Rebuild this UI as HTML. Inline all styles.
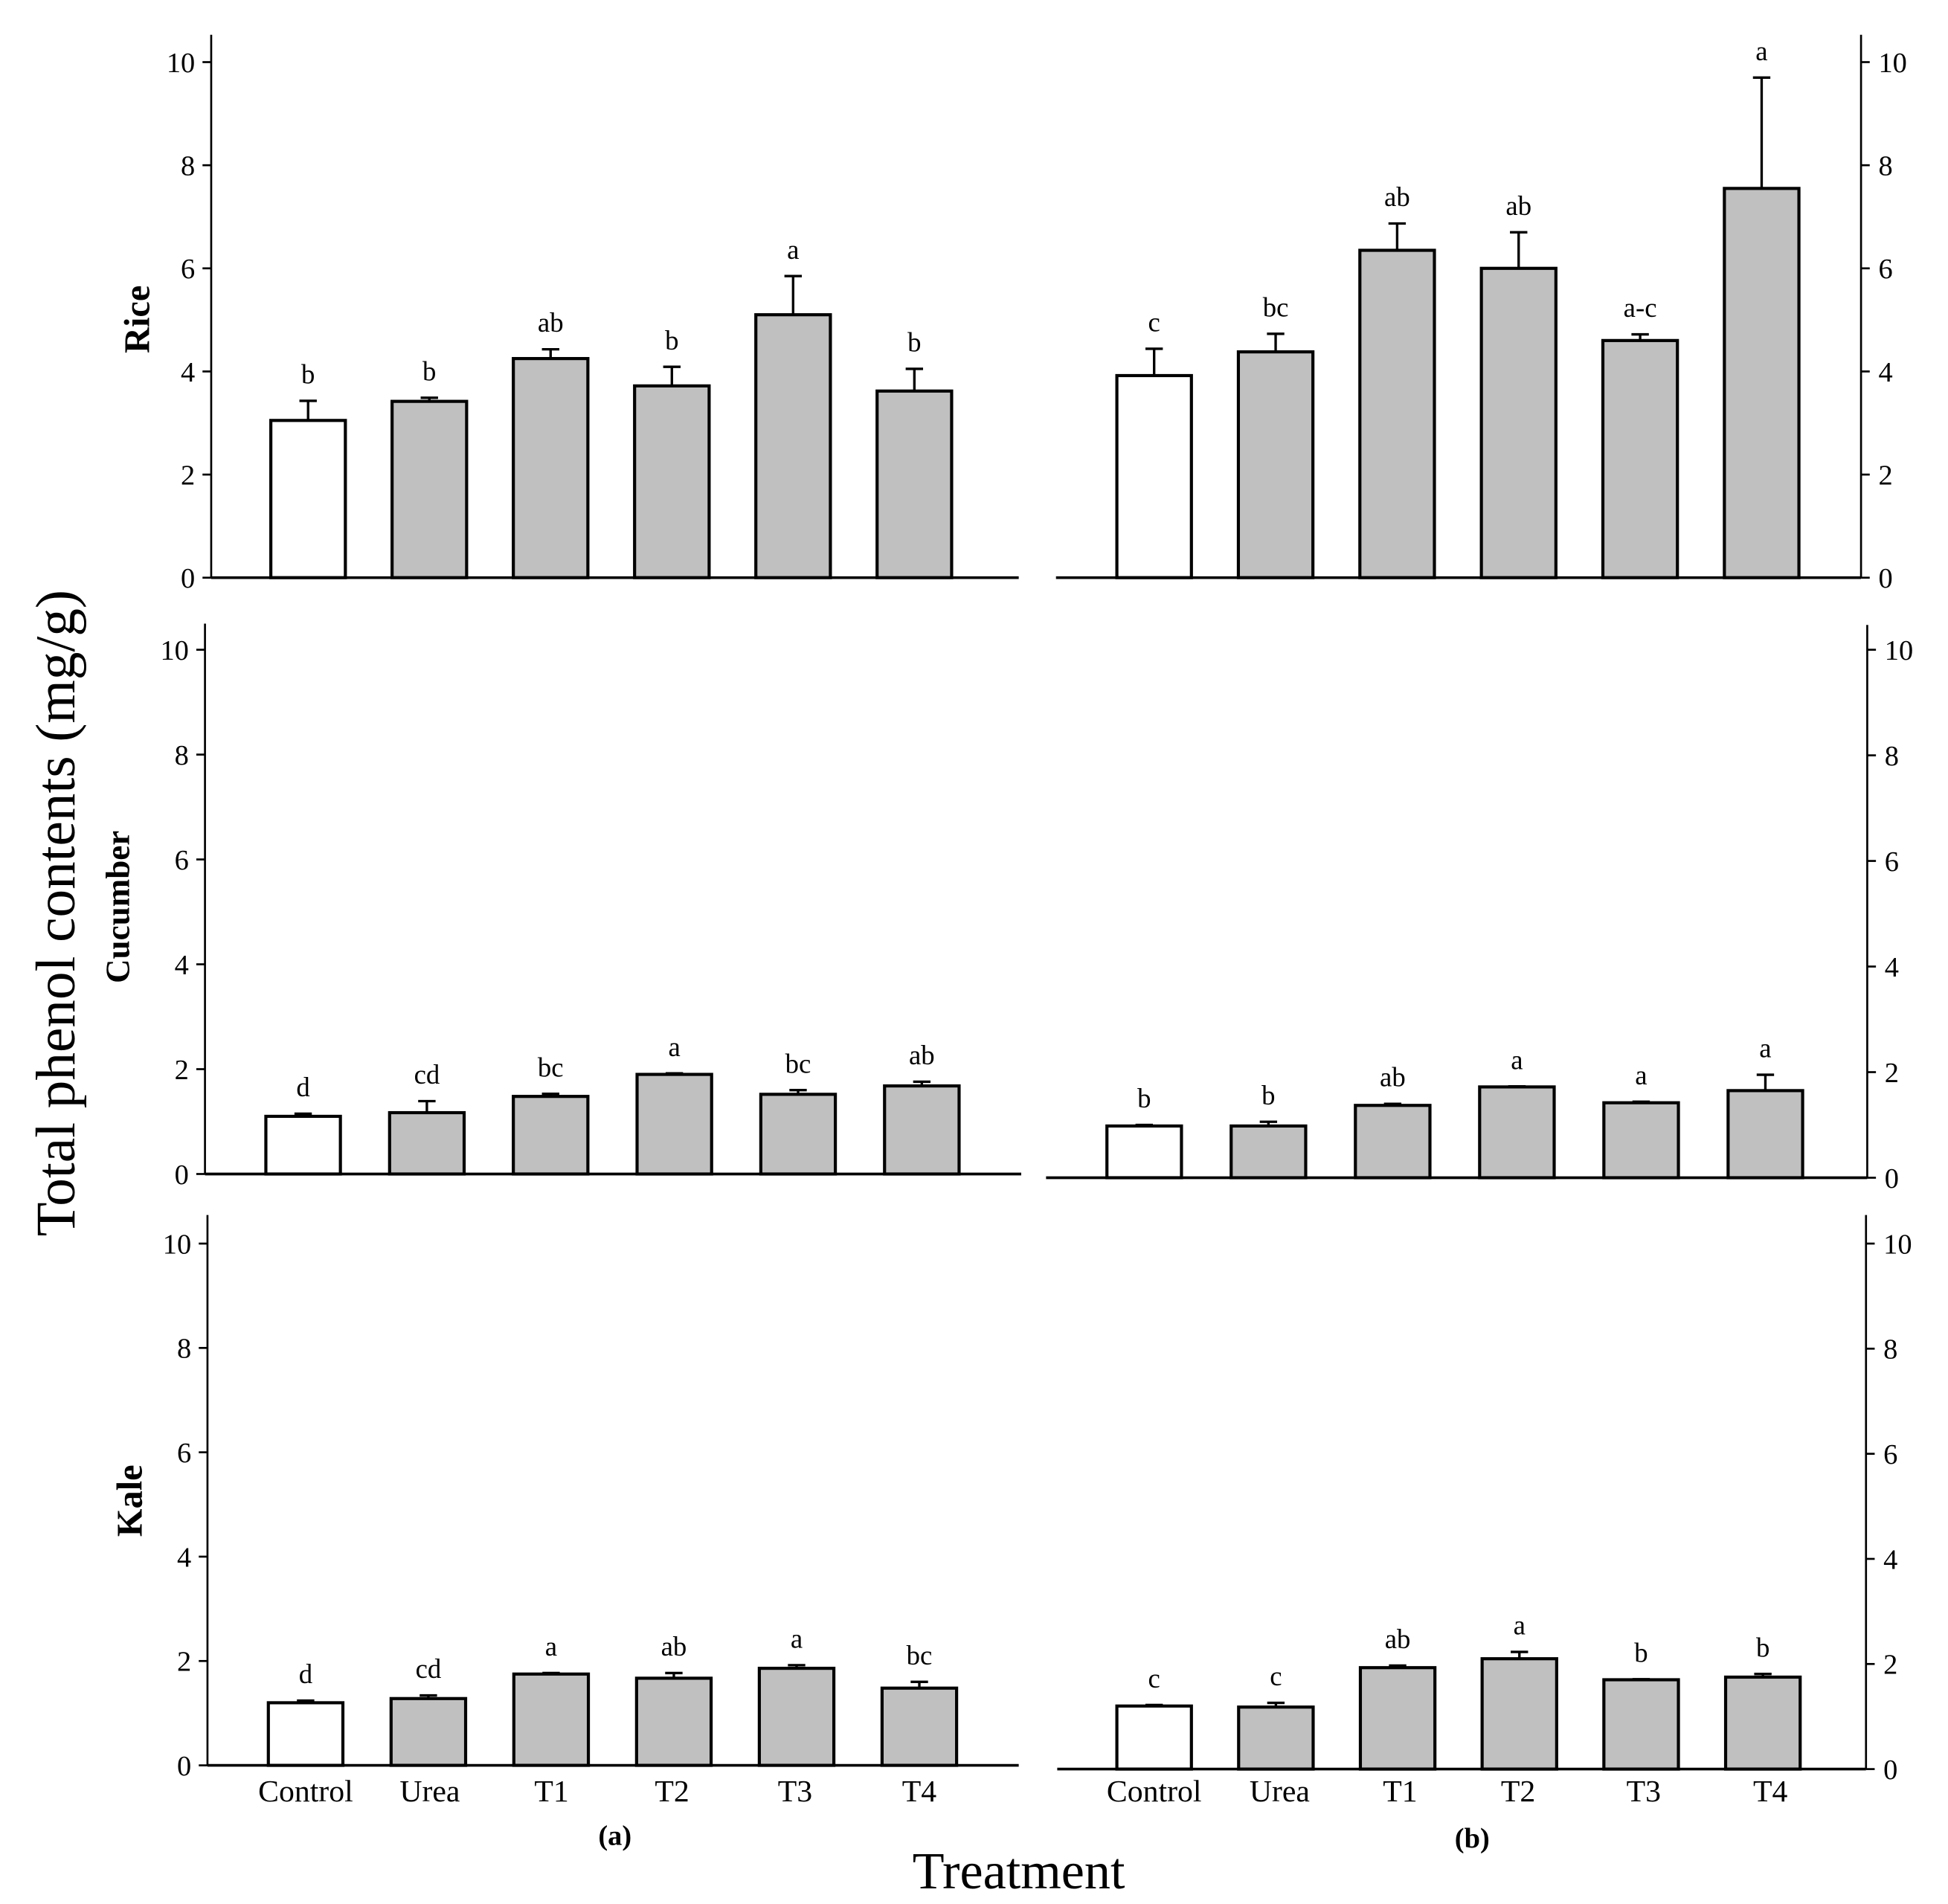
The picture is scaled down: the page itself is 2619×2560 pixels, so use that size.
<!DOCTYPE html>
<html><head><meta charset="utf-8"><style>html,body{margin:0;padding:0;background:#fff}svg{display:block}</style></head>
<body>
<svg id="chart" xmlns="http://www.w3.org/2000/svg" width="2619" height="2560" viewBox="0 0 1568 1532.6" preserveAspectRatio="none" font-family="'Liberation Serif', serif">
<text x="0" y="0" transform="translate(60,735) rotate(-90)" text-anchor="middle" font-size="45">Total phenol contents (mg/g)</text>
<text x="820" y="1520" text-anchor="middle" font-size="42">Treatment</text>
<text x="495" y="1485" text-anchor="middle" font-size="23" font-weight="bold">(a)</text>
<text x="1185" y="1487" text-anchor="middle" font-size="23" font-weight="bold">(b)</text>
<text transform="translate(120,257) rotate(-90)" text-anchor="middle" font-size="29" font-weight="bold">Rice</text>
<text transform="translate(104,730) rotate(-90)" text-anchor="middle" font-size="27" font-weight="bold">Cucumber</text>
<text transform="translate(114,1208) rotate(-90)" text-anchor="middle" font-size="29" font-weight="bold">Kale</text>
</svg>
<script>
const categories = ["Control","Urea","T1","T2","T3","T4"];
const yTicks = [0,2,4,6,8,10];
const riceA = [3.05,3.42,4.25,3.72,5.1,3.62];
const riceAErr = [0.38,0.07,0.18,0.37,0.75,0.43];
const riceALetters = ["b","b","ab","b","a","b"];
const riceB = [3.92,4.38,6.35,6.0,4.6,7.55];
const riceBErr = [0.52,0.35,0.52,0.7,0.12,2.15];
const riceBLetters = ["c","bc","ab","ab","a-c","a"];
const cucA = [1.1,1.17,1.48,1.9,1.52,1.68];
const cucAErr = [0.05,0.22,0.05,0.02,0.08,0.08];
const cucALetters = ["d","cd","bc","a","bc","ab"];
const cucB = [0.98,0.98,1.37,1.72,1.42,1.65];
const cucBErr = [0.02,0.08,0.03,0.01,0.02,0.3];
const cucBLetters = ["b","b","ab","a","a","a"];
const kaleA = [1.2,1.28,1.75,1.67,1.86,1.48];
const kaleAErr = [0.04,0.06,0.02,0.1,0.06,0.12];
const kaleALetters = ["d","cd","a","ab","a","bc"];
const kaleB = [1.2,1.18,1.93,2.1,1.7,1.75];
const kaleBErr = [0.02,0.08,0.04,0.13,0.01,0.06];
const kaleBLetters = ["c","c","ab","a","b","b"];

const svg = document.getElementById('chart');
const NS = 'http://www.w3.org/2000/svg';
function mk(tag, attrs, parent){const e=document.createElementNS(NS,tag);for(const k in attrs)e.setAttribute(k,attrs[k]);(parent||svg).appendChild(e);return e;}

const panels = [
 {id:'rice-a', v:riceA, e:riceAErr, l:riceALetters, side:'left', ax:170, x0:170, x1:820, y0:465, y10:50, top:28, c0:248, dc:97.6},
 {id:'rice-b', v:riceB, e:riceBErr, l:riceBLetters, side:'right', ax:1498, x0:850, x1:1498, y0:465, y10:50, top:28, c0:929, dc:97.8},
 {id:'cucumber-a', v:cucA, e:cucAErr, l:cucALetters, side:'left', ax:165, x0:165, x1:822, y0:945, y10:523, top:502, c0:244, dc:99.6},
 {id:'cucumber-b', v:cucB, e:cucBErr, l:cucBLetters, side:'right', ax:1503, x0:842, x1:1503, y0:948, y10:523, top:503, c0:921, dc:100},
 {id:'kale-a', v:kaleA, e:kaleAErr, l:kaleALetters, side:'left', ax:167, x0:167, x1:820, y0:1421, y10:1001, top:978, c0:246, dc:98.8, xl:[246,346,444,541,640,740]},
 {id:'kale-b', v:kaleB, e:kaleBErr, l:kaleBLetters, side:'right', ax:1502, x0:851, x1:1502, y0:1424, y10:1001, top:978, c0:929, dc:98, xl:[929,1030,1127,1222,1323,1425]}
];

panels.forEach(p=>{
  const g = mk('g',{});
  
  
  const yS = v => p.y0 + (p.y10-p.y0)*v/10;
  const bw = 60;
  p.v.forEach((val,i)=>{
    const cx = p.c0 + i*p.dc;
    const top = yS(val+p.e[i]);
    const el = mk('line',{x1:cx,x2:cx,y1:yS(val),y2:top,stroke:'#000','stroke-width':2},g);
    
    
    const cap = mk('line',{x1:cx-7,x2:cx+7,y1:top,y2:top,stroke:'#000','stroke-width':2},g);
    
    
    const r = mk('rect',{x:cx-bw/2,y:yS(val),width:bw,height:p.y0-yS(val),fill:i===0?'#fff':'#c0c0c0',stroke:'#000','stroke-width':2.5},g);
    
    
    const t = mk('text',{x:cx,y:top-14,'text-anchor':'middle','font-size':22},g);
    t.textContent = p.l[i];
    
    
  });
  const base = mk('line',{x1:p.x0,x2:p.x1,y1:p.y0,y2:p.y0,stroke:'#000','stroke-width':2.2},g);
  
  
  const ya = mk('line',{x1:p.ax,x2:p.ax,y1:p.top,y2:p.y0,stroke:'#000','stroke-width':1.6},g);
  
  
  const dir = p.side==='left'?-1:1;
  yTicks.forEach(tv=>{
    const y = yS(tv);
    const tk = mk('line',{x1:p.ax,x2:p.ax+dir*7,y1:y,y2:y,stroke:'#000','stroke-width':1.6},g);
    
    
    const tl = mk('text',{x:p.ax+dir*(p.side==='left'?13:14),y:y+8,'text-anchor':p.side==='left'?'end':'start','font-size':23},g);
    tl.textContent = tv;
    
    
  });
  if(p.xl){
    categories.forEach((c,i)=>{
      const xt = mk('text',{x:p.xl[i],y:1450,'text-anchor':'middle','font-size':25},g);
      xt.textContent = c;
      
      
    });
  }
});
</script>
</body></html>
